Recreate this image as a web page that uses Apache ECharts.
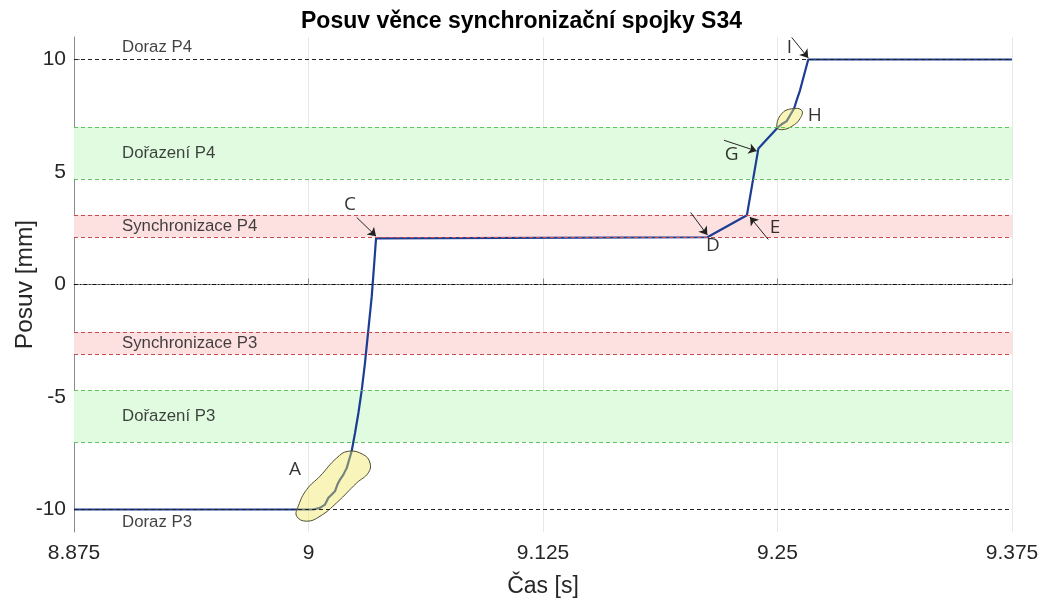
<!DOCTYPE html>
<html>
<head>
<meta charset="utf-8">
<script src="https://cdn.jsdelivr.net/npm/echarts@6/dist/echarts.min.js"></script>
<style>
  html, body { margin: 0; padding: 0; background: #fff; }
  #chart { width: 1043px; height: 599px; }
</style>
</head>
<body>
<div id="chart"></div>
<script>
// Sleeve displacement over time [s] -> [mm]
const timeS = [8.875, 9.0026, 9.0061, 9.0088, 9.0106, 9.0124, 9.0141, 9.0154, 9.0168, 9.0186,
  9.0204, 9.0217, 9.0230, 9.0248, 9.0266, 9.0284, 9.0301, 9.0319, 9.0337, 9.0349,
  9.0360, 9.0363, 9.2126, 9.2337, 9.2398, 9.2504, 9.2522, 9.2549, 9.2567, 9.2588,
  9.2602, 9.2620, 9.2641, 9.2664, 9.375];
const posMm = [-10, -10, -9.93, -9.78, -9.48, -9.33, -9.19, -8.89, -8.67, -8.45,
  -8.15, -7.78, -7.41, -6.6, -5.71, -4.68, -3.49, -2.02, -0.54, 0.79,
  2.05, 2.1, 2.1, 3.08, 6.04, 7.0, 7.12, 7.26, 7.52, 7.81,
  8.18, 8.63, 9.29, 10, 10];

// Axis ticks
const xTicks = [8.875, 9, 9.125, 9.25, 9.375];
const yTicks = [-10, -5, 0, 5, 10];

// Shaded zones
const bandNames = ['Dořazení P4', 'Synchronizace P4', 'Synchronizace P3', 'Dořazení P3'];
const bandLow = [4.7, 2.1, -3.1, -7.0];
const bandHigh = [7.0, 3.1, -2.1, -4.7];
const bandKind = ['green', 'red', 'red', 'green'];

// End stops
const stopNames = ['Doraz P4', 'Doraz P3'];
const stopValues = [10, -10];
const stopLabelValues = [10.55, -10.55];

// Letter annotations and their pointer arrows
const letterNames = ['A', 'C', 'D', 'E', 'G', 'H', 'I'];
const letterT = [8.9928, 9.0221, 9.2155, 9.2487, 9.2256, 9.2699, 9.2563];
const letterV = [-8.22, 3.53, 1.71, 2.52, 5.79, 7.52, 10.52];
const arrowFrom = [[9.0257, 2.98], [9.2037, 3.2], [9.2451, 2.0], [9.2215, 6.41], [9.2576, 10.98]];
const arrowTo = [[9.0360, 2.15], [9.2126, 2.2], [9.2353, 3.0], [9.2389, 5.93], [9.2664, 10.07]];

// Highlight outlines around regions of interest
const blobA = [[8.99371, -10.30], [8.99904, -10.52], [9.00613, -10.30], [9.01503, -9.70],
  [9.02569, -8.82], [9.03188, -8.37], [9.03278, -7.93], [9.02921, -7.56],
  [9.02122, -7.41], [9.01503, -7.71], [9.00613, -8.52], [8.99904, -9.11], [8.99456, -9.85]];
const blobH = [[9.2496, 7.0], [9.2522, 7.59], [9.2576, 7.81], [9.2629, 7.74],
  [9.2620, 7.37], [9.2576, 7.03], [9.2522, 6.88]];
const blobs = [blobA, blobH];

const labelT = 8.9006;

const palette = {
  green: { fill: '#e1fbe1', line: '#5cc65c' },
  red: { fill: '#fde1e1', line: '#c84a52' }
};

const chart = echarts.init(document.getElementById('chart'));

const areaData = bandNames.map((n, i) => [
  { yAxis: bandLow[i], itemStyle: { color: palette[bandKind[i]].fill } },
  { yAxis: bandHigh[i] }
]);

const lineData = [];
bandNames.forEach((n, i) => {
  const c = palette[bandKind[i]].line;
  lineData.push({ yAxis: bandLow[i], lineStyle: { color: c, type: [4, 3], width: 1 } });
  lineData.push({ yAxis: bandHigh[i], lineStyle: { color: c, type: [4, 3], width: 1 } });
});
stopValues.forEach(v => {
  lineData.push({ yAxis: v, lineStyle: { color: '#222', type: [4, 3], width: 1 } });
});
lineData.push({ yAxis: 0, lineStyle: { color: '#111', type: [4, 2, 1.2, 2], width: 1.1 } });

const textData = bandNames.map((n, i) => ({ value: [labelT, (bandLow[i] + bandHigh[i]) / 2], name: n }))
  .concat(stopNames.map((n, i) => ({ value: [labelT, stopLabelValues[i]], name: n })));

const arrowData = arrowFrom.map((p, i) => [{ coord: p }, { coord: arrowTo[i] }]);

const letterData = letterNames.map((n, i) => ({ value: [letterT[i], letterV[i]], name: n }));

const baseFont = 'Liberation Sans, Arial, sans-serif';

chart.setOption({
  animation: false,
  backgroundColor: '#fff',
  title: {
    text: 'Posuv věnce synchronizační spojky S34',
    left: 'center',
    top: 5,
    textStyle: { fontFamily: baseFont, fontSize: 23, fontWeight: 'bold', color: '#000' }
  },
  grid: { left: 74, right: 31, top: 37, bottom: 67, containLabel: false, outerBoundsMode: 'none' },
  xAxis: {
    type: 'value',
    min: 8.875,
    max: 9.375,
    interval: 0.125,
    name: 'Čas [s]',
    nameLocation: 'middle',
    nameGap: 43,
    nameMoveOverlap: false,
    nameTextStyle: { fontFamily: baseFont, fontSize: 23, color: '#262626' },
    axisLine: { show: true, lineStyle: { color: '#8c8c8c', width: 1 } },
    axisTick: { show: true, inside: true, length: 6, lineStyle: { color: '#8c8c8c' }, customValues: xTicks },
    axisLabel: {
      fontFamily: baseFont, fontSize: 21, color: '#262626', margin: 11,
      customValues: xTicks,
      formatter: v => String(+v.toFixed(3))
    },
    splitLine: { show: true, lineStyle: { color: '#e8e8e8', width: 1 } }
  },
  yAxis: {
    type: 'value',
    min: -11,
    max: 11,
    interval: 1,
    name: 'Posuv [mm]',
    nameLocation: 'middle',
    nameGap: 36,
    nameRotate: 90,
    nameMoveOverlap: false,
    nameTextStyle: { fontFamily: baseFont, fontSize: 24.5, color: '#262626' },
    axisLine: { show: true, lineStyle: { color: '#8c8c8c', width: 1 } },
    axisTick: { show: true, inside: true, length: 6, lineStyle: { color: '#8c8c8c' }, customValues: yTicks },
    axisLabel: { fontFamily: baseFont, fontSize: 21, color: '#262626', margin: 8, customValues: yTicks },
    splitLine: { show: false }
  },
  series: [
    {
      name: 'zones',
      type: 'line',
      data: [],
      z: 1,
      silent: true,
      markArea: { silent: true, data: areaData, label: { show: false } },
      markLine: { silent: true, symbol: ['none', 'none'], label: { show: false }, data: lineData }
    },
    {
      name: 'zone labels',
      type: 'scatter',
      z: 2,
      silent: true,
      symbolSize: 0,
      data: textData,
      label: {
        show: true, position: 'right', distance: 0,
        formatter: p => p.name,
        fontFamily: baseFont, fontSize: 16.8, color: '#111'
      }
    },
    {
      name: 'Posuv',
      type: 'line',
      z: 3,
      data: timeS.map((t, i) => [t, posMm[i]]),
      showSymbol: false,
      symbol: 'none',
      lineStyle: { color: '#1c3d94', width: 2.2 }
    },
    {
      name: 'highlights',
      type: 'custom',
      z: 4,
      silent: true,
      data: blobs.map(b => b[0]),
      renderItem: (params, api) => {
        const pts = blobs[params.dataIndex].map(p => api.coord(p));
        return {
          type: 'polygon',
          shape: { points: pts, smooth: 0.45 },
          style: { fill: 'rgba(240, 232, 90, 0.42)', stroke: '#4d4d35', lineWidth: 1 }
        };
      }
    },
    {
      name: 'pointers',
      type: 'line',
      data: [],
      z: 5,
      silent: true,
      markLine: {
        silent: true,
        symbol: ['none', 'arrow'],
        symbolSize: 8,
        label: { show: false },
        lineStyle: { color: '#222', width: 1, type: 'solid' },
        data: arrowData
      }
    },
    {
      name: 'letters',
      type: 'scatter',
      z: 6,
      silent: true,
      symbolSize: 0,
      data: letterData,
      label: {
        show: true, position: 'inside',
        formatter: p => p.name,
        fontFamily: 'Open Sans, Noto Sans, sans-serif', fontSize: 19, color: '#000'
      }
    }
  ]
});
</script>
</body>
</html>
